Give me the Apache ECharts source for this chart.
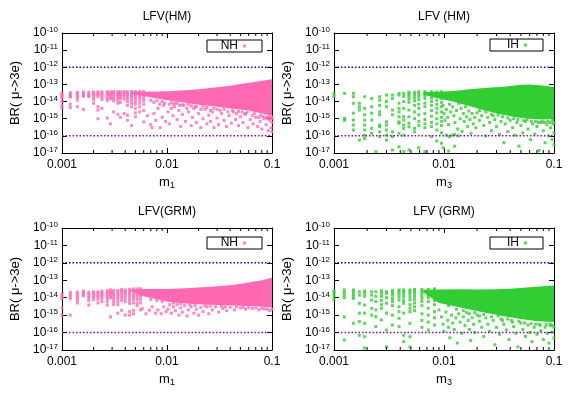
<!DOCTYPE html>
<html><head><meta charset="utf-8">
<script src="https://cdn.jsdelivr.net/npm/echarts@6/dist/echarts.min.js"></script>
<style>html,body{margin:0;padding:0;background:#fff}#c{width:583px;height:393px}</style>
</head><body><div id="c"></div>
<script>
// ---------- axes / labels ----------
const xTickLabels = ['0.001', '0.01', '0.1'];
const yTickExponents = [-17, -16, -15, -14, -13, -12, -11, -10];
const xMinorTicks = [0.002,0.003,0.004,0.005,0.006,0.007,0.008,0.009,0.02,0.03,0.04,0.05,0.06,0.07,0.08,0.09];
const limitUpper = 1e-12;
const limitLower = 1e-16;
const panelTitles = ['LFV(HM)', 'LFV (HM)', 'LFV(GRM)', 'LFV (GRM)'];
const xNames = ['1', '3', '1', '3'];
const seriesNames = ['NH', 'IH', 'NH', 'IH'];

// ---------- panel 1 : NH, HM ----------
const nhHmCols = [
 [0.001,[3.2e-14,2.6e-14,2e-14,1.6e-14,1e-14,6e-15,4.5e-15]],
 [0.0012,[3.3e-14,2.7e-14,2.2e-14,1.8e-14,7e-15,4.5e-15]],
 [0.0014,[3.4e-14,2.8e-14,2.2e-14,1.7e-14,1.2e-14,5e-15]],
 [0.0016,[3.6e-14,3e-14,2.4e-14,2e-14,3.5e-15]],
 [0.0018,[3.5e-14,2.9e-14,2.3e-14,1.9e-14]],
 [0.002,[3.6e-14,3e-14,2.4e-14,1.8e-14,1.3e-14,8e-15]],
 [0.0022,[3.7e-14,3.1e-14,2.5e-14,2e-14,5e-15,3.2e-15,1e-15]],
 [0.0024,[3.7e-14,3e-14,2.4e-14,1.8e-14,1.3e-14,4e-15]],
 [0.0027,[3.8e-14,3.2e-14,2.6e-14,2e-14,1.5e-14,1.1e-14,1.1e-15]],
 [0.0029,[3.7e-14,3e-14,2.4e-14,1.8e-14,1.4e-14,5e-16]],
 [0.0031,[3.8e-14,3.2e-14,2.6e-14,2e-14,1.5e-14,1.1e-14,2.5e-15]],
 [0.0034,[3.8e-14,3.2e-14,2.6e-14,2.1e-14,1.6e-14,1.2e-14,8e-15,1.8e-15]],
 [0.0036,[3.7e-14,3.1e-14,2.5e-14,2e-14,1.5e-14,9e-15,1.2e-15]],
 [0.0039,[3.8e-14,3.2e-14,2.6e-14,2e-14,1.4e-14,2e-15]],
 [0.0042,[3.8e-14,3.2e-14,2.5e-14,2e-14,1.5e-14,1e-14,6e-15,1.6e-15,8e-16]],
 [0.0046,[3.8e-14,3.3e-14,2.7e-14,2.2e-14,1.7e-14,1.2e-14,8e-15,5e-15,4e-16]],
 [0.005,[3.8e-14,3.2e-14,2.6e-14,2e-14,1.5e-14,1e-14,7e-15,4e-15,2.2e-15,1.3e-15]],
 [0.0055,[3.9e-14,3.3e-14,2.7e-14,2.2e-14,1.7e-14,1.2e-14,8e-15,5e-15,2.5e-15]],
 [0.006,[3.9e-14,3.3e-14,2.6e-14,2e-14,1.5e-14,1.1e-14,7e-15,3e-15,6.5e-16]]
];
const nhHmPts = [
 [0.0065,1.5e-15],[0.007,4.5e-16],[0.0072,3e-16],[0.0075,2e-15],[0.0078,8e-16],[0.0082,4e-15],[0.0086,3e-16],[0.009,1.2e-15],[0.0093,6e-15],[0.0097,7e-16],
 [0.0102,2.5e-15],[0.0105,5e-16],[0.011,4e-15],[0.0114,1.5e-15],[0.012,8e-15],[0.0125,9e-16],[0.013,3e-15],[0.0135,3.5e-16],[0.014,1.8e-15],[0.0145,6e-15],
 [0.015,7e-16],[0.016,2.5e-15],[0.017,4e-16],[0.0175,1.2e-15],[0.018,4e-15],[0.019,6e-16],[0.02,2e-15],[0.021,3e-16],[0.022,1e-15],[0.023,3.5e-15],
 [0.024,5e-16],[0.025,1.6e-15],[0.026,7e-16],[0.027,2.5e-15],[0.028,3e-16],[0.03,1.1e-15],[0.031,4.5e-16],[0.033,2e-15],[0.035,8e-16],[0.037,3.5e-16],
 [0.039,1.5e-15],[0.041,5.5e-16],[0.043,2.5e-15],[0.045,9e-16],[0.048,4e-16],[0.05,1.3e-15],[0.053,6e-16],[0.056,2e-15],[0.059,3e-16],[0.062,9e-16],
 [0.066,5e-16],[0.07,1.2e-15],[0.073,3.5e-16],[0.077,7e-16],[0.08,2.5e-16],[0.084,1e-15],[0.088,4.5e-16],[0.092,2e-16],[0.095,8e-16],[0.098,3e-16],[0.1,1.8e-16],[0.1,6e-16],
 [0.0105,7e-15],[0.0118,5e-15],[0.0132,6e-15],[0.0155,4e-15],[0.0185,5e-15],[0.021,3.5e-15],[0.026,3e-15],[0.032,3e-15],[0.038,2.5e-15],[0.046,2e-15],[0.055,1.8e-15],[0.065,1.5e-15],[0.075,1.2e-15],[0.09,1e-15],
 [0.007,1.2e-14],[0.0075,9e-15],[0.008,1.1e-14],[0.0085,7e-15],[0.009,1e-14],[0.0095,8e-15],[0.011,9e-15],[0.0115,7e-15],[0.0125,8e-15],[0.014,6.5e-15],
 [0.016,7e-15],[0.017,5.5e-15],[0.019,5e-15],[0.022,5e-15],[0.024,4.5e-15],[0.028,4e-15],[0.03,3.5e-15],[0.035,3.5e-15],[0.042,3e-15],[0.048,2.7e-15],
 [0.052,2.5e-15],[0.058,2.4e-15],[0.068,2e-15],[0.078,1.6e-15],[0.082,1.3e-15],[0.088,1.2e-15],[0.093,1.3e-15],[0.097,1.1e-15],[0.1,1e-15],[0.1,1.3e-15]
];
const nhHmBandUpper = [[0.0045,3.7e-14],[0.0063,3.8e-14],[0.01,4e-14],[0.015,4.6e-14],[0.02,5.3e-14],[0.03,6.8e-14],[0.04,8.5e-14],[0.05,1.05e-13],[0.07,1.45e-13],[0.1,2e-13]];
const nhHmBandLower = [[0.1,1.5e-15],[0.08,2e-15],[0.06,3e-15],[0.04,4e-15],[0.03,5e-15],[0.02,6.5e-15],[0.014,9e-15],[0.01,1.2e-14],[0.0063,2e-14],[0.0045,3e-14]];

// ---------- panel 2 : IH, HM ----------
const ihHmCols = [
 [0.001,[3e-14,2e-14]],
 [0.00125,[3e-14,1.05e-15,8e-16]],
 [0.0015,[3e-14,1.9e-14,8e-15,2.1e-15,8.3e-16,4.3e-16,2.2e-16]],
 [0.0017,[8e-15,5e-15,3.2e-15,5.7e-17]],
 [0.0019,[1.9e-14,4e-15,1.7e-15,8.3e-16,4.3e-16,2.2e-16,1.1e-16,7e-17]],
 [0.0022,[1.5e-14,5e-15,2.1e-15,8.3e-16,2.7e-16,1.4e-16]],
 [0.0024,[1.2e-17]],
 [0.0026,[1.9e-14,1.2e-14,6e-15,2.5e-15,1.7e-15,4.3e-16,3.4e-16,1.7e-16,9e-17]],
 [0.003,[2.4e-14,1e-14,5e-15,6.6e-16,4.3e-16,2.2e-16,1.1e-16,5.7e-17]],
 [0.0034,[2.4e-14,1.5e-14,3.2e-15,1.7e-15,1.7e-16,9e-17,1.5e-17]],
 [0.0039,[3e-14,2.4e-14,8e-15,4e-15,2.5e-15,1.3e-15,6.6e-16,5.4e-16,1.4e-16,2.3e-17]],
 [0.0043,[3e-14,2e-14,1e-14,4e-15,1.3e-15,8.3e-16,4.3e-16,2.7e-16,1.1e-16,1.2e-17]],
 [0.0048,[3.5e-14,2.8e-14,2e-14,1.4e-14,9e-15,3.2e-15,1.3e-15,5.4e-16,3.4e-16,1.5e-17]],
 [0.0054,[3.5e-14,2.6e-14,1.7e-14,1.1e-14,6e-15,2.5e-15,1e-15,2.7e-16,1.7e-16]],
 [0.0059,[3.8e-14,2.8e-14,2e-14,1.3e-14,7e-15,4e-15,1.7e-15,7e-16,4e-16,2e-17]],
 [0.0067,[3.8e-14,3e-14,2.2e-14,1.5e-14,8e-15,5e-15,2e-15,9e-16,5e-16,3e-16,1.2e-17]],
 [0.0077,[3.8e-14,3e-14,2.3e-14,1.6e-14,1e-14,6e-15,3e-15,1.4e-15,6e-16,3.5e-16,9e-17]],
 [0.0086,[3.6e-14,2.8e-14,2e-14,1.2e-14,7e-15,4e-15,2.2e-15,1e-15,5e-16,2.2e-16,5e-17]],
 [0.0095,[3.8e-14,3e-14,2.2e-14,1.5e-14,9e-15,5e-15,2.5e-15,1.2e-15,7e-16,4e-16,1.5e-16,3.7e-17]]
];
const ihHmPts = [
 [0.0098,6e-15],[0.01,2e-15],[0.0102,8e-16],[0.0105,3.5e-15],[0.0108,1.2e-15],[0.011,4.5e-16],[0.0112,7e-15],[0.0115,2.5e-15],[0.0118,1.1e-16],[0.012,5e-15],
 [0.0123,1.5e-15],[0.0126,6e-16],[0.013,3e-15],[0.0133,2.5e-16],[0.0136,8e-15],[0.014,1e-15],[0.0143,4e-15],[0.0146,1.8e-16],[0.015,2e-15],[0.0153,7e-16],
 [0.0157,5e-15],[0.016,1.3e-15],[0.0164,3.5e-16],[0.0168,2.8e-15],[0.0172,9e-16],[0.0176,1.4e-16],[0.018,2e-15],[0.0185,5e-16],[0.019,1.2e-15],[0.0195,3e-16],
 [0.02,2.2e-15],[0.021,8e-16],[0.022,1.5e-15],[0.023,4e-16],[0.024,1e-16],[0.025,1.2e-15],[0.026,6e-16],[0.027,2e-16],[0.028,1.5e-15],[0.029,9e-16],
 [0.03,3.5e-16],[0.032,1.2e-16],[0.033,7e-16],[0.035,4e-17],[0.036,5e-16],[0.038,1.8e-16],[0.04,8e-16],[0.042,3e-16],[0.044,1.1e-16],[0.046,6e-16],
 [0.048,2.5e-17],[0.05,4e-16],[0.052,1.5e-16],[0.055,7e-16],[0.058,2.5e-16],[0.061,6e-17],[0.064,5e-16],[0.067,1.3e-16],[0.07,3.5e-16],[0.073,1.4e-17],
 [0.076,6e-16],[0.08,2e-16],[0.083,4e-17],[0.086,4.5e-16],[0.09,1e-16],[0.093,3e-16],[0.096,6e-17],[0.098,5e-16],[0.1,1.5e-16],[0.1,3e-17],
 [0.0105,1.1e-16],[0.0112,9e-17],[0.0125,1.2e-16],[0.0135,1e-16],[0.0098,2e-17],[0.011,1.3e-17],[0.0125,2.5e-17],
 [0.021,3e-15],[0.024,2.5e-15],[0.027,1.8e-15],[0.031,1.6e-15],[0.034,1.3e-15],[0.038,1.1e-15],[0.043,1e-15],[0.047,9e-16],[0.053,8e-16],[0.057,9e-16],
 [0.062,7e-16],[0.068,7e-16],[0.072,6e-16],[0.078,7e-16],[0.082,6e-16],[0.088,7e-16],[0.092,6e-16],[0.097,8e-16],[0.1,6e-16]
];
const ihHmBandUpper = [[0.0065,3.6e-14],[0.009,3.7e-14],[0.013,4.3e-14],[0.018,5.4e-14],[0.025,6.3e-14],[0.037,7.5e-14],[0.05,9.5e-14],[0.06,1e-13],[0.075,9e-14],[0.1,7e-14]];
const ihHmBandLower = [[0.1,1e-15],[0.08,9e-16],[0.06,1e-15],[0.045,1.2e-15],[0.03,2e-15],[0.022,3.5e-15],[0.016,6e-15],[0.012,1e-14],[0.009,1.5e-14],[0.0065,2.5e-14]];

// ---------- panel 3 : NH, GRM ----------
const nhGrmCols = [
 [0.001,[1.6e-14,1.2e-14,9e-15,2.6e-15,1e-15]],
 [0.0012,[2e-14,1.6e-14,1.2e-14,9e-15,1e-15]],
 [0.0014,[2.1e-14,1.7e-14,1.3e-14,1e-14,7e-15,5e-15]],
 [0.0016,[2.4e-14,2e-14,1.6e-14,1.3e-14]],
 [0.0018,[2.1e-14,1.7e-14,1.3e-14,1e-14,7e-15,3.8e-15]],
 [0.002,[2.2e-14,1.8e-14,1.4e-14,1.1e-14,8e-15]],
 [0.0022,[2.2e-14,1.8e-14,1.4e-14,1.1e-14,8e-15,5e-15]],
 [0.0024,[2.4e-14,1.9e-14,1.5e-14,1.2e-14,9e-15,6e-15]],
 [0.0027,[2.6e-14,2e-14,1.6e-14,1.2e-14,9e-15,6e-15,3.8e-15]],
 [0.0029,[2.8e-14,2.2e-14,1.7e-14,1.3e-14,1e-14,8e-16]],
 [0.0031,[2.6e-14,2e-14,1.6e-14,1.2e-14,9e-15,6e-15,4e-15]],
 [0.0034,[2.6e-14,2.1e-14,1.6e-14,1.2e-14,9e-15,6e-15,4e-15,1.3e-15]],
 [0.0037,[3e-14,2.4e-14,1.9e-14,1.4e-14,1e-14,7e-15,1.9e-15]],
 [0.004,[2.8e-14,2.2e-14,1.7e-14,1.3e-14,9e-15,6e-15,1e-15]],
 [0.0044,[3e-14,2.4e-14,1.9e-14,1.4e-14,1e-14,7e-15,4.7e-15,1.6e-15,1e-15]],
 [0.0048,[3.2e-14,2.6e-14,2e-14,1.5e-14,1.1e-14,8e-15,5e-15,1.9e-15,1.2e-15]],
 [0.0052,[3.2e-14,2.6e-14,2e-14,1.5e-14,1.1e-14,8e-15,5e-15,3.5e-15]],
 [0.0056,[3.3e-14,2.7e-14,2.1e-14,1.6e-14,1.2e-14,8e-15,5e-15,2e-15]]
];
const nhGrmPts = [
 [0.0058,2.4e-15],[0.0063,1.2e-15],[0.0068,1.9e-15],[0.0072,3e-15],[0.0078,1.3e-15],[0.0082,2e-15],[0.0088,1.2e-15],[0.0093,3e-15],[0.0098,1.6e-15],
 [0.0102,2.2e-15],[0.0106,4e-15],[0.011,1.3e-15],[0.0115,3e-15],[0.012,1.8e-15],[0.0125,4e-15],[0.013,1e-15],[0.0135,2.6e-15],[0.014,1.5e-15],[0.0147,3.5e-15],
 [0.0155,9e-16],[0.016,2e-15],[0.017,3e-15],[0.018,1.3e-15],[0.019,2.2e-15],[0.02,1e-15],[0.021,2.8e-15],[0.022,1.6e-15],[0.024,3e-15],[0.025,1.2e-15],
 [0.027,2e-15],[0.029,3e-15],[0.031,1.5e-15],[0.034,2.4e-15],[0.037,1.8e-15],[0.04,2.8e-15],[0.044,2e-15],[0.05,2.6e-15],[0.056,2.2e-15],[0.065,2.4e-15],
 [0.075,2e-15],[0.085,2.3e-15],[0.095,1.8e-15],
 [0.007,8e-15],[0.008,7e-15],[0.009,6e-15],[0.0115,5e-15],[0.0135,4.5e-15],[0.0165,4e-15],[0.0185,3.6e-15],[0.023,3.5e-15],[0.026,3.3e-15],[0.033,3.2e-15],
 [0.036,3e-15],[0.046,3e-15],[0.053,2.9e-15],[0.06,2.7e-15],[0.07,2.6e-15],[0.08,2.4e-15],[0.09,2.2e-15],[0.1,2.2e-15]
];
const nhGrmBandUpper = [[0.0045,3e-14],[0.006,3.2e-14],[0.01,3.2e-14],[0.015,3.5e-14],[0.02,3.8e-14],[0.03,4.5e-14],[0.042,5.4e-14],[0.06,7.5e-14],[0.08,1e-13],[0.1,1.4e-13]];
const nhGrmBandLower = [[0.1,2.7e-15],[0.07,3.2e-15],[0.05,3.5e-15],[0.03,3.8e-15],[0.02,4.2e-15],[0.013,5e-15],[0.01,6e-15],[0.006,1.2e-14],[0.0045,2.4e-14]];

// ---------- panel 4 : IH, GRM ----------
const ihGrmCols = [
 [0.001,[2.5e-14,1.8e-14,1.2e-14,8e-15]],
 [0.00124,[2.8e-14,2e-14,1.4e-14,1e-14,8e-16,3.7e-17]],
 [0.0015,[2.8e-14,2.2e-14,1.6e-14,1.2e-14,9e-15,3.4e-16]],
 [0.0017,[2.2e-14,1.4e-14,4.8e-15,1.3e-15,4.3e-16,7e-17]],
 [0.0019,[2.4e-14,1.8e-14,1.2e-14,3.8e-15,1.3e-15,3.4e-16,5.8e-17,1.3e-17]],
 [0.0022,[2.2e-14,1.4e-14,7.4e-15,2.5e-15,1e-15]],
 [0.0024,[2.2e-14,1.2e-14,6e-15,2e-15,8.2e-16,2.2e-16]],
 [0.0027,[2.5e-14,1.8e-14,1.2e-14,7e-15,4e-15,2.5e-15,5.3e-16]],
 [0.003,[2.2e-14,1.8e-14,1e-14,4.8e-15,1.3e-15,1.4e-16,1.5e-17]],
 [0.0034,[2.6e-14,2e-14,1.4e-14,9e-15,6e-15,3.5e-15,1e-15,2.7e-16]],
 [0.0039,[2.8e-14,2.2e-14,1.6e-14,1.1e-14,7.4e-15,3e-15,1.6e-15,6.6e-16,2.2e-16]],
 [0.0043,[2.8e-14,2.2e-14,1.6e-14,1.1e-14,7e-15,4.8e-15,1.3e-15,7e-17,3e-17]],
 [0.0049,[2.8e-14,2.2e-14,1.6e-14,1.1e-14,7.4e-15,4e-15,2.5e-15,1.6e-15,3.4e-16,5.8e-17,1.5e-17]],
 [0.0054,[3e-14,2.4e-14,1.8e-14,1.2e-14,8e-15,5e-15,3e-15,1.8e-15]],
 [0.0063,[3e-14,2.4e-14,1.8e-14,1.3e-14,9e-15,6e-15,3.5e-15,1.2e-15,5e-16,2e-16]],
 [0.0072,[3e-14,2.5e-14,1.9e-14,1.4e-14,1e-14,6e-15,2.5e-15,1e-15,4e-16,1.4e-16]],
 [0.0082,[3.2e-14,2.6e-14,2e-14,1.5e-14,1e-14,7e-15,4e-15,1.6e-15,7e-16,2.7e-16]]
];
const ihGrmPts = [
 [0.009,2e-15],[0.0095,8e-16],[0.0098,3e-16],[0.01,1.2e-16],[0.0104,1.5e-15],[0.0108,5e-16],[0.011,2e-16],[0.0113,5e-17],[0.0117,1e-15],[0.012,3.5e-16],
 [0.0124,1.5e-16],[0.0128,7e-16],[0.0132,2.5e-17],[0.0136,1.2e-15],[0.014,4e-16],[0.0145,9e-17],[0.015,8e-16],[0.0155,2.5e-16],[0.016,1.4e-15],[0.0166,5e-16],
 [0.017,1.5e-16],[0.0175,3.5e-17],[0.018,7e-16],[0.0186,3e-16],[0.019,1e-16],[0.02,1e-15],[0.021,4.5e-16],[0.022,2e-16],[0.023,6e-17],[0.024,7e-16],
 [0.025,3e-16],[0.026,1.2e-16],[0.028,5e-16],[0.029,2e-17],[0.03,2e-16],[0.032,8e-17],[0.033,6e-16],[0.035,3e-16],[0.037,1.4e-16],[0.039,4e-17],
 [0.041,5e-16],[0.043,2.2e-16],[0.045,9e-17],[0.047,1.5e-17],[0.05,3.5e-16],[0.052,1.5e-16],[0.055,6e-17],[0.058,2.7e-16],[0.06,1e-16],[0.063,3e-17],
 [0.066,2e-16],[0.07,8e-17],[0.073,3e-16],[0.076,1.3e-16],[0.08,4e-17],[0.083,2e-16],[0.087,9e-17],[0.09,2.5e-17],[0.093,2.5e-16],[0.096,1.1e-16],[0.1,5e-17],[0.1,2e-16],
 [0.011,3.5e-15],[0.013,2.2e-15],[0.015,1.8e-15],[0.017,1.2e-15],[0.019,1.4e-15],[0.021,9e-16],[0.023,1.1e-15],[0.027,8e-16],[0.031,9e-16],[0.034,5e-16],
 [0.038,6e-16],[0.042,4e-16],[0.048,4.5e-16],[0.054,3.5e-16],[0.062,3.2e-16],[0.068,3e-16],[0.075,2.6e-16],[0.085,2.8e-16],[0.092,3e-16],[0.098,2.6e-16]
];
const ihGrmBandUpper = [[0.0065,2.9e-14],[0.009,3e-14],[0.015,3.1e-14],[0.02,3e-14],[0.03,3.1e-14],[0.04,3.3e-14],[0.06,4e-14],[0.08,4.5e-14],[0.1,5e-14]];
const ihGrmBandLower = [[0.1,4e-16],[0.07,4.5e-16],[0.05,6e-16],[0.037,8e-16],[0.025,1.3e-15],[0.018,2e-15],[0.013,3e-15],[0.009,5e-15],[0.0065,2e-14]];

// ---------- build ----------
const PINK = '#ff69b4', GREEN = '#32cd32';
const FONT = 'Liberation Sans';
const panels = [
  {g:{left:62,top:33,width:210,height:120}, color:PINK, cols:nhHmCols, pts:nhHmPts, up:nhHmBandUpper, lo:nhHmBandLower, leg:{left:207,top:40}, legText:30, titleTop:11},
  {g:{left:334,top:33,width:220,height:120}, color:GREEN, cols:ihHmCols, pts:ihHmPts, up:ihHmBandUpper, lo:ihHmBandLower, leg:{left:490,top:39}, legText:28, titleTop:11},
  {g:{left:62,top:228,width:210,height:122}, color:PINK, cols:nhGrmCols, pts:nhGrmPts, up:nhGrmBandUpper, lo:nhGrmBandLower, leg:{left:207,top:237}, legText:30, titleTop:206},
  {g:{left:334,top:228,width:220,height:122}, color:GREEN, cols:ihGrmCols, pts:ihGrmPts, up:ihGrmBandUpper, lo:ihGrmBandLower, leg:{left:490,top:237}, legText:28, titleTop:206}
];

const option = {animation:false, textStyle:{fontFamily:FONT}, grid:[], xAxis:[], yAxis:[], series:[], title:[], legend:[]};
const axLine = {show:true, lineStyle:{color:'#000', width:1}};
panels.forEach((p, i) => {
  option.grid.push(Object.assign({}, p.g));
  const xBase = {gridIndex:i, type:'log', logBase:10, min:0.001, max:0.1, splitLine:{show:false}, axisLine:axLine,
    axisTick:{show:true, inside:true, length:5, lineStyle:{color:'#000'}}};
  option.xAxis.push(Object.assign({}, xBase, {position:'bottom',
    axisLabel:{color:'#000', fontSize:12, margin:6, fontFamily:FONT,
      formatter: v => xTickLabels[Math.round(Math.log10(v)) + 3]},
    name:'{m|m}{s|' + xNames[i] + '}', nameLocation:'middle', nameGap:22,
    nameTextStyle:{rich:{m:{fontSize:13, color:'#000', fontFamily:FONT}, s:{fontSize:9, color:'#000', verticalAlign:'bottom', padding:[6,0,0,0], fontFamily:FONT}}}}));
  option.xAxis.push(Object.assign({}, xBase, {position:'top', axisLabel:{show:false}}));
  const yBase = {gridIndex:i, type:'log', logBase:10, min:1e-17, max:1e-10, splitLine:{show:false}, axisLine:axLine,
    axisTick:{show:true, inside:true, length:5, lineStyle:{color:'#000'}}};
  option.yAxis.push(Object.assign({}, yBase, {position:'left',
    axisLabel:{margin:4, formatter: v => '{b|10}{s|' + yTickExponents[Math.round(Math.log10(v)) + 17] + '}',
      rich:{b:{fontSize:12, color:'#000', fontFamily:FONT, lineHeight:14}, s:{fontSize:8, color:'#000', verticalAlign:'top', fontFamily:FONT}}},
    name:'BR( \u03bc->3e)', nameLocation:'middle', nameGap:40, nameRotate:90,
    nameTextStyle:{fontSize:13, color:'#000', fontFamily:FONT}}));
  option.yAxis.push(Object.assign({}, yBase, {position:'right', axisLabel:{show:false}}));
  const xi = 2 * i, yi = 2 * i;
  option.title.push({text:panelTitles[i], left:p.g.left + p.g.width / 2, top:p.titleTop, textAlign:'center', padding:0,
    textStyle:{fontSize:12, fontWeight:'normal', color:'#000', fontFamily:FONT}});
  // dense core region
  const bandPts = p.up.concat(p.lo);
  option.series.push({type:'custom', name:seriesNames[i] + ' core', xAxisIndex:xi, yAxisIndex:yi, clip:true, z:2,
    data:[bandPts[0]],
    renderItem:(params, api) => ({type:'polygon', shape:{points:bandPts.map(q => api.coord(q))}, style:{fill:p.color}})});
  // scatter points
  const data = [];
  p.cols.forEach(c => c[1].forEach(y => data.push([c[0], y])));
  p.pts.forEach(q => data.push(q));
  option.series.push({type:'scatter', name:seriesNames[i], xAxisIndex:xi, yAxisIndex:yi, data:data, symbol:'rect', symbolSize:3,
    itemStyle:{color:p.color}, z:3, silent:true});
  // limit lines
  option.series.push({type:'line', name:'upper limit ' + i, xAxisIndex:xi, yAxisIndex:yi, data:[[0.001, limitUpper],[0.1, limitUpper]],
    symbol:'none', lineStyle:{color:'#0000ee', width:1.5, type:[1.5,2]}, z:5, silent:true});
  option.series.push({type:'line', name:'lower limit ' + i, xAxisIndex:xi, yAxisIndex:yi, data:[[0.001, limitLower],[0.1, limitLower]],
    symbol:'none', lineStyle:{color:'#990099', width:1.5, type:[1.5,2]}, z:5, silent:true});
  // minor x ticks (bottom & top)
  option.series.push({type:'custom', name:'minor ' + i, xAxisIndex:xi, yAxisIndex:yi, clip:false, z:6, silent:true,
    data:xMinorTicks.map(v => [v, 1e-17]),
    renderItem:(params, api) => {
      const b = api.coord([api.value(0), 1e-17]);
      const t = api.coord([api.value(0), 1e-10]);
      return {type:'group', children:[
        {type:'line', shape:{x1:b[0], y1:b[1], x2:b[0], y2:b[1] - 3}, style:{stroke:'#000', lineWidth:1}},
        {type:'line', shape:{x1:t[0], y1:t[1], x2:t[0], y2:t[1] + 3}, style:{stroke:'#000', lineWidth:1}}
      ]};
    }});
  option.legend.push({data:[seriesNames[i]], left:p.leg.left, top:p.leg.top, align:'right', selectedMode:false,
    borderColor:'#000', borderWidth:1, borderRadius:0, padding:[0,16,0,1], itemWidth:3, itemHeight:3, icon:'rect',
    textStyle:{fontSize:12, color:'#000', fontFamily:FONT, width:p.legText, lineHeight:12}});
});

const chart = echarts.init(document.getElementById('c'), null, {renderer:'canvas'});
chart.setOption(option);
</script>
</body></html>
